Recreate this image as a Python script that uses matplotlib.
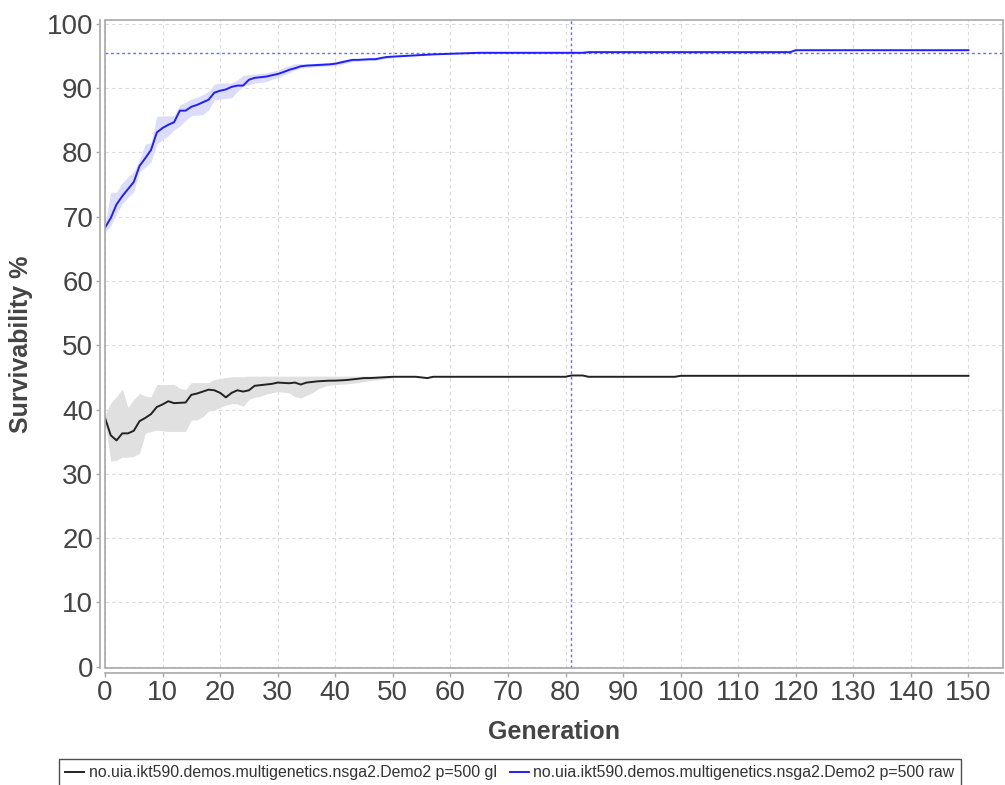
import matplotlib
matplotlib.use("Agg")
from matplotlib import pyplot as plt
from matplotlib.patches import Rectangle

plt.rcParams['font.family'] = ['Liberation Sans', 'DejaVu Sans']

# mean per generation (0..150)
gl_mean = [38.7, 36.0, 35.2, 36.3, 36.3, 36.7, 38.2, 38.7, 39.3, 40.4,
           40.8, 41.3, 41.0, 41.05, 41.1, 42.3, 42.5, 42.8, 43.1, 43.0,
           42.6, 41.9, 42.6, 43.0, 42.8, 43.0, 43.7, 43.8, 43.9, 44.0,
           44.2, 44.15, 44.1, 44.2, 43.9, 44.2, 44.3, 44.4, 44.45, 44.5,
           44.5, 44.55, 44.6, 44.7, 44.8, 44.9, 44.9, 44.95, 45.0, 45.05,
           45.1, 45.1, 45.1, 45.1, 45.1, 45.0, 44.9, 45.1, 45.1, 45.1,
           45.1, 45.1, 45.1, 45.1, 45.1, 45.1, 45.1, 45.1, 45.1, 45.1,
           45.1, 45.1, 45.1, 45.1, 45.1, 45.1, 45.1, 45.1, 45.1, 45.1,
           45.1, 45.3, 45.3, 45.3, 45.1, 45.1, 45.1, 45.1, 45.1, 45.1,
           45.1, 45.1, 45.1, 45.1, 45.1, 45.1, 45.1, 45.1, 45.1, 45.1,
           45.25, 45.25, 45.25, 45.25, 45.25, 45.25, 45.25, 45.25, 45.25, 45.25,
           45.25, 45.25, 45.25, 45.25, 45.25, 45.25, 45.25, 45.25, 45.25, 45.25,
           45.25, 45.25, 45.25, 45.25, 45.25, 45.25, 45.25, 45.25, 45.25, 45.25,
           45.25, 45.25, 45.25, 45.25, 45.25, 45.25, 45.25, 45.25, 45.25, 45.25,
           45.25, 45.25, 45.25, 45.25, 45.25, 45.25, 45.25, 45.25, 45.25, 45.25,
           45.25]
raw_mean = [68.3, 69.8, 71.9, 73.2, 74.3, 75.4, 77.9, 79.1, 80.4, 83.1,
            83.8, 84.3, 84.7, 86.5, 86.5, 87.1, 87.4, 87.8, 88.2, 89.3,
            89.6, 89.8, 90.2, 90.4, 90.4, 91.3, 91.6, 91.7, 91.8, 92.0,
            92.2, 92.5, 92.85, 93.1, 93.4, 93.5, 93.55, 93.6, 93.65, 93.7,
            93.8, 94.0, 94.2, 94.4, 94.4, 94.45, 94.5, 94.5, 94.7, 94.85,
            94.9, 94.95, 95.0, 95.05, 95.1, 95.15, 95.2, 95.25, 95.28, 95.3,
            95.35, 95.38, 95.4, 95.42, 95.45, 95.5, 95.5, 95.5, 95.5, 95.5,
            95.5, 95.5, 95.5, 95.5, 95.5, 95.5, 95.5, 95.5, 95.5, 95.5,
            95.5, 95.5, 95.5, 95.5, 95.6, 95.6, 95.6, 95.6, 95.6, 95.6,
            95.6, 95.6, 95.6, 95.6, 95.6, 95.6, 95.6, 95.6, 95.6, 95.6,
            95.6, 95.6, 95.6, 95.6, 95.6, 95.6, 95.6, 95.6, 95.6, 95.6,
            95.6, 95.6, 95.6, 95.6, 95.6, 95.6, 95.6, 95.6, 95.6, 95.6,
            95.9, 95.9, 95.9, 95.9, 95.9, 95.9, 95.9, 95.9, 95.9, 95.9,
            95.9, 95.9, 95.9, 95.9, 95.9, 95.9, 95.9, 95.9, 95.9, 95.9,
            95.9, 95.9, 95.9, 95.9, 95.9, 95.9, 95.9, 95.9, 95.9, 95.9,
            95.9]

# spread bands, generations 0..50
gl_lo = [38.0, 32.0, 32.1, 32.6, 32.6, 32.7, 33.2, 36.3, 36.6, 36.8,
         36.7, 36.6, 36.6, 36.6, 36.6, 38.4, 38.4, 38.9, 39.8, 39.9,
         40.4, 40.7, 40.9, 40.9, 40.5, 41.6, 41.9, 42.1, 42.4, 42.6,
         42.8, 42.7, 42.6, 42.0, 41.8, 42.2, 42.6, 43.2, 43.6, 43.8,
         43.9, 43.95, 44.0, 44.1, 44.2, 44.35, 44.5, 44.6, 44.7, 44.8,
         44.9]
gl_hi = [39.2, 41.0, 42.0, 43.2, 40.3, 41.6, 42.5, 42.1, 42.0, 43.9,
         43.9, 43.9, 43.9, 43.3, 43.1, 44.2, 44.2, 44.2, 44.2, 44.7,
         44.8, 45.0, 45.1, 45.1, 45.1, 45.2, 45.2, 45.2, 45.2, 45.2,
         45.2, 45.2, 45.2, 45.2, 45.2, 45.2, 45.2, 45.2, 45.2, 45.2,
         45.2, 45.2, 45.2, 45.2, 45.2, 45.2, 45.2, 45.2, 45.2, 45.2,
         45.2]
raw_lo = [67.6, 68.6, 70.5, 72.0, 73.0, 73.9, 77.0, 77.7, 78.5, 81.3,
          82.0, 82.6, 83.5, 84.1, 85.0, 85.7, 85.8, 85.9, 86.6, 88.2,
          88.3, 88.4, 88.5, 89.5, 90.3, 90.5, 90.8, 90.9, 91.0, 91.4,
          91.6, 92.0, 92.4, 92.8, 93.1, 93.2, 93.3, 93.35, 93.4, 93.45,
          93.5, 93.7, 93.9, 94.1, 94.2, 94.25, 94.3, 94.35, 94.5, 94.65,
          94.7]
raw_hi = [68.8, 73.8, 73.8, 75.3, 76.2, 77.0, 78.8, 81.3, 81.5, 85.6,
          85.7, 85.7, 85.7, 87.4, 87.8, 88.3, 88.6, 89.0, 89.5, 90.6,
          90.8, 90.8, 90.8, 91.3, 92.0, 92.1, 92.2, 92.3, 92.4, 92.6,
          92.8, 93.2, 93.5, 93.8, 93.8, 93.8, 93.85, 93.9, 93.95, 94.0,
          94.1, 94.3, 94.5, 94.6, 94.6, 94.65, 94.7, 94.75, 94.85, 95.0,
          95.05]

gens = list(range(len(gl_mean)))
band_gens = list(range(len(gl_lo)))
marker_x = 81
marker_y = 95.5

labels = ["no.uia.ikt590.demos.multigenetics.nsga2.Demo2 p=500 gl",
          "no.uia.ikt590.demos.multigenetics.nsga2.Demo2 p=500 raw"]

fig = plt.figure(figsize=(10.05, 7.85), dpi=100)
W, H = 1005, 785
ax = fig.add_axes([105 / W, (H - 668) / H, (1003 - 105) / W, (668 - 20) / H])

ax.fill_between(band_gens, gl_lo, gl_hi, color='#e0e0e0', lw=0)
ax.fill_between(band_gens, raw_lo, raw_hi, color='#dcdcfb', lw=0)
l1, = ax.plot(gens, gl_mean, color='#222222', lw=1.4, label=labels[0])
l2, = ax.plot(gens, raw_mean, color='#1f1fff', lw=1.4, label=labels[1])

ax.axhline(marker_y, color='#6a6aff', lw=1.0, ls=(0, (2, 2)), zorder=1.5)
ax.axvline(marker_x, color='#6a6aff', lw=1.0, ls=(0, (2, 2)), zorder=1.5)

ax.set_xlim(0, 156)
ax.set_ylim(-0.2, 100.6)
ax.set_xticks(range(0, 151, 10))
ax.set_yticks(range(0, 101, 10))
ax.grid(True, color='#dadada', lw=0.8, ls=(0, (3, 3)))
ax.set_axisbelow(True)

# plot outline and offset axis lines
ax.add_patch(Rectangle((0, 0), 1, 1, transform=ax.transAxes, fill=False,
                       edgecolor='#a8a8a8', lw=1.2, clip_on=False, zorder=5))
for s in ['top', 'right']:
    ax.spines[s].set_visible(False)
for s in ['left', 'bottom']:
    ax.spines[s].set_position(('outward', 3.5))
    ax.spines[s].set_color('#a8a8a8')
    ax.spines[s].set_linewidth(1.2)

ax.tick_params(axis='both', colors='#a8a8a8', length=3, width=1,
               labelsize=20, labelcolor='#444444', pad=2)

ax.set_xlabel("Generation", fontsize=18, fontweight='bold', color='#444444', labelpad=10)
ax.set_ylabel("Survivability %", fontsize=18, fontweight='bold', color='#444444', labelpad=10)

leg = fig.legend(handles=[l1, l2], loc='upper center', ncol=2,
                 bbox_to_anchor=(510 / W, (H - 759) / H), fontsize=11.4,
                 frameon=True, fancybox=False, edgecolor='#222222',
                 handlelength=1.2, handletextpad=0.3, columnspacing=0.8,
                 borderpad=0.4, borderaxespad=0)
leg.get_frame().set_linewidth(1.0)
for t in leg.get_texts():
    t.set_color('#333333')

fig.savefig("out.png", dpi=100)
